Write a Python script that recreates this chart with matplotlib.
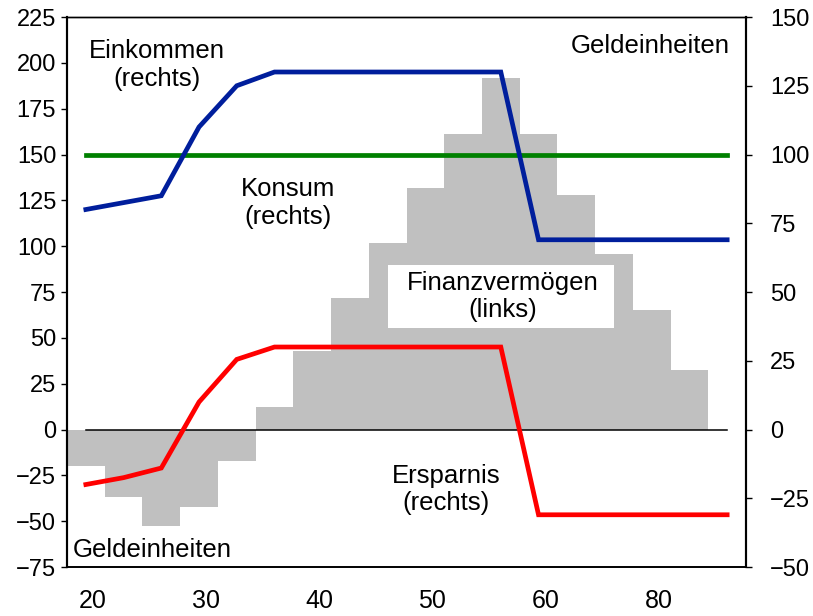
#life cycle chart: income, consumption, saving and financial wealth
import numpy as np
from matplotlib import pyplot as plt
from matplotlib.patches import Rectangle

plt.rcParams['font.family'] = ['Liberation Sans', 'DejaVu Sans']

#data (one slot per age step, labels every third slot)
slots       = np.arange(18)
x_label_pos = [0, 3, 6, 9, 12, 15]
x_labels    = ["20", "30", "40", "50", "60", "80"]

#left axis
finanzvermoegen = [-20, -37, -52.5, -42, -17, 12.5, 43, 72, 102, 132, 161, 192,
                   161, 128, 96, 65, 32.5]
#right axis
einkommen = [80, 82.5, 85, 110, 125, 130, 130, 130, 130, 130, 130, 130,
             69, 69, 69, 69, 69, 69]
konsum    = [100] * 18
ersparnis = [-20, -17.5, -14, 10, 25.5, 30, 30, 30, 30, 30, 30, 30,
             -31, -31, -31, -31, -31, -31]
nulllinie = [0] * 18

left_ticks  = np.arange(-75, 226, 25)
right_ticks = np.arange(-50, 151, 25)

#figure
fig = plt.figure(figsize=(8.13, 6.16), dpi=100)
ax  = fig.add_axes([0.0824, 0.0795, 0.8352, 0.8929])
ax2 = ax.twinx()

ax.bar(slots[:len(finanzvermoegen)], finanzvermoegen, width=1.0,
       color="#c0c0c0", linewidth=0, zorder=1)
ax.set_xlim(-0.5, 17.5)
ax.set_ylim(-75, 225)
ax.set_yticks(left_ticks)
ax.set_xticks([p + 0.18 for p in x_label_pos])
ax.set_xticklabels(x_labels)

ax2.plot(slots, nulllinie, color="k", lw=1.1, zorder=2)
ax2.plot(slots, konsum, color="#008000", lw=3.4, zorder=3)
ax2.plot(slots, einkommen, color="#001e9c", lw=3.4, zorder=3,
         solid_joinstyle="miter")
ax2.plot(slots, ersparnis, color="#ff0000", lw=3.4, zorder=3,
         solid_joinstyle="miter")
ax2.set_ylim(-50, 150)
ax2.set_yticks(right_ticks)

# white label box over the bars
ax2.add_patch(Rectangle((0.4728, 0.4345), 0.3328, 0.1145,
                        transform=ax.transAxes, facecolor="white",
                        edgecolor="none", zorder=2.5))

#ticks and spines
ax.tick_params(axis="x", length=0, pad=16, labelsize=18)
ax.tick_params(axis="y", direction="out", length=4.3, width=1,
               pad=3.5, labelsize=17)
ax2.tick_params(axis="y", direction="out", length=4.3, width=1,
                pad=13, labelsize=17)
for a in (ax, ax2):
    a.spines["left"].set_linewidth(1.5)
    a.spines["right"].set_linewidth(1.5)
    a.spines["top"].set_linewidth(1.0)
    a.spines["bottom"].set_linewidth(1.2)

#labels
fs = 18.5
ax2.text(0.1325, 0.913, "Einkommen\n(rechts)", transform=ax.transAxes,
         ha="center", va="center", fontsize=fs, zorder=4)
ax2.text(0.9764, 0.9345, "Geldeinheiten", transform=ax.transAxes,
         ha="right", va="baseline", fontsize=fs, zorder=4)
ax2.text(0.3255, 0.662, "Konsum\n(rechts)", transform=ax.transAxes,
         ha="center", va="center", fontsize=fs, zorder=4)
ax2.text(0.6414, 0.492, "Finanzvermögen\n(links)", transform=ax.transAxes,
         ha="center", va="center", fontsize=fs, zorder=4)
ax2.text(0.5582, 0.141, "Ersparnis\n(rechts)", transform=ax.transAxes,
         ha="center", va="center", fontsize=fs, zorder=4)
ax2.text(0.0088, 0.0182, "Geldeinheiten", transform=ax.transAxes,
         ha="left", va="baseline", fontsize=fs, zorder=4)

fig.savefig("out.png", dpi=100)
